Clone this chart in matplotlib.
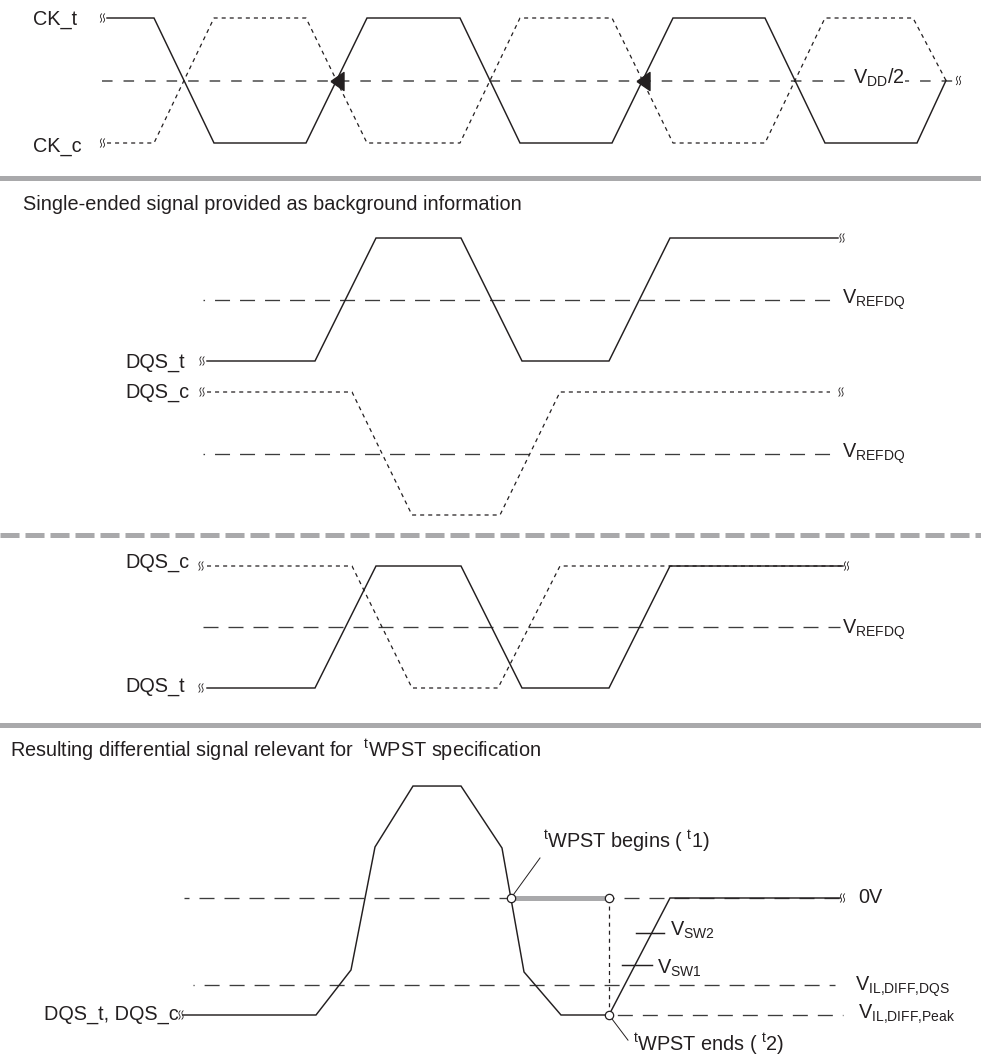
import numpy as np
import matplotlib
matplotlib.use('Agg')
import matplotlib.pyplot as plt

plt.rcParams['font.family'] = ['Liberation Sans', 'DejaVu Sans']
plt.rcParams['mathtext.fontset'] = 'custom'
plt.rcParams['mathtext.rm'] = 'Liberation Sans'
plt.rcParams['mathtext.it'] = 'Liberation Sans:italic'
plt.rcParams['mathtext.bf'] = 'Liberation Sans:bold'
plt.rcParams['lines.scale_dashes'] = False

# ---------------- data (time axis in diagram units, logic/voltage levels) ----
# Panel 1: differential clock
CK_T_TIME = [107, 154, 214, 306, 367, 460, 520, 612, 673, 765, 825, 917, 946]
CK_T_LEVEL = [1, 1, 0, 0, 1, 1, 0, 0, 1, 1, 0, 0, 0.5]
CK_C_TIME = [107, 154, 214, 306, 367, 460, 520, 612, 673, 765, 825, 913, 946]
CK_C_LEVEL = [0, 0, 1, 1, 0, 0, 1, 1, 0, 0, 1, 1, 0.5]
CK_MID_LEVEL = 0.5
CK_MID_SPAN = [102, 955]
CK_ARROW_TIMES = [336.5, 642.5]

# Panel 2: single-ended strobes
SE_DQS_T_TIME = [207, 315, 376, 461, 522, 609, 670, 838]
SE_DQS_T_LEVEL = [0, 0, 1, 1, 0, 0, 1, 1]
SE_DQS_C_TIME = [207, 352, 412, 500, 560, 830]
SE_DQS_C_LEVEL = [1, 1, 0, 0, 1, 1]
VREFDQ_LEVEL = 0.5
SE_VREF_SPAN = [203, 830]

# Panel 3: overlaid strobes
OV_DQS_C_TIME = [207, 352, 412, 498, 560, 843]
OV_DQS_C_LEVEL = [1, 1, 0, 0, 1, 1]
OV_DQS_T_TIME = [207, 315, 376, 461, 522, 609, 670, 843]
OV_DQS_T_LEVEL = [0, 0, 1, 1, 0, 0, 1, 1]
OV_VREF_SPAN = [203, 840]

# Panel 4: differential signal (0V = 0, VIL,DIFF,Peak = -1)
DIFF_TIME = [183, 316, 351, 375, 413, 461, 502, 524, 561, 609, 670, 840]
DIFF_LEVEL = [-1, -1, -0.615, 0.436, 0.957, 0.957, 0.427, -0.632, -1, -1, 0, 0]
V0_LEVEL = 0.0
V0_SPAN = [184, 840]
VIL_DQS_LEVEL = -0.744
VIL_DQS_SPAN = [193, 835]
VIL_PEAK_LEVEL = -1.0
VIL_PEAK_SPAN = [609, 843]
T1 = 511
T2 = 609
VSW2_LEVEL = -0.30
VSW2_SPAN = [636, 664]
VSW1_LEVEL = -0.573
VSW1_SPAN = [622, 652]

# Text
CK_LABELS = ['CK_t', 'CK_c']
SE_LABELS = ['DQS_t', 'DQS_c']
OV_LABELS = ['DQS_c', 'DQS_t']
DIFF_LABEL = 'DQS_t, DQS_c'
VDD_LABEL = r'V$_{\mathrm{DD}}$/2'
VREF_LABEL = r'V$_{\mathrm{REFDQ}}$'
SECTION2_TITLE = 'Single-ended signal provided as background information'
SECTION4_TITLE = r'Resulting differential signal relevant for  $^{\mathrm{t}}$WPST specification'
T1_LABEL = r'$^{\mathrm{t}}$WPST begins ( $^{\mathrm{t}}$1)'
T2_LABEL = r'$^{\mathrm{t}}$WPST ends ( $^{\mathrm{t}}$2)'
V0_LABEL = '0V'
VSW2_LABEL = r'V$_{\mathrm{SW2}}$'
VSW1_LABEL = r'V$_{\mathrm{SW1}}$'
VIL_DQS_LABEL = r'V$_{\mathrm{IL{,}DIFF{,}DQS}}$'
VIL_PEAK_LABEL = r'V$_{\mathrm{IL{,}DIFF{,}Peak}}$'

# ---------------- style ----------------
INK = '#231f20'
REFC = '#3c3c3c'
GREY = '#a9a9ab'
W, H = 981, 1060
FS = 14.3
SOLID = dict(color=INK, lw=1.05, solid_joinstyle='miter', clip_on=False)
DOT = dict(color=INK, lw=0.9, linestyle=(0, (2.9, 2.9)), clip_on=False)


def refstyle(offset):
    return dict(color=REFC, lw=0.95, linestyle=(offset, (10.8, 7.2)), clip_on=False)


fig = plt.figure(figsize=(W / 100, H / 100), dpi=100)
ov = fig.add_axes([0, 0, 1, 1])
ov.set_xlim(0, W)
ov.set_ylim(H, 0)
ov.axis('off')
ov.set_zorder(10)


def panel(y_lo_px, y_hi_px, lo, hi):
    ax = fig.add_axes([0, 1 - y_lo_px / H, 1, (y_lo_px - y_hi_px) / H])
    ax.set_xlim(0, W)
    ax.set_ylim(lo, hi)
    ax.axis('off')
    ax.patch.set_alpha(0)
    return ax


def to_px(ax, x, y):
    dx, dy = ax.transData.transform((x, y))
    return dx, H - dy


def brk(ax, x, y, dx):
    px, py = to_px(ax, x, y)
    s = np.linspace(-1, 1, 30)
    for off in (-1.5, 1.5):
        ov.plot(px + dx + off + 0.9 * np.sin(np.pi * s) - 0.6 * s, py + 4.2 * s,
                color=INK, lw=0.6)


def txt(x, y, s, **kw):
    ov.text(x, y, s, fontsize=kw.pop('fontsize', FS), color=INK, ha='left',
            va='baseline', **kw)


# separators
ov.axhline(178, color=GREY, lw=3.6)
ov.axhline(534.5, color=GREY, lw=3.6, linestyle=(0, (13.7, 4.3)))
ov.axhline(724.5, color=GREY, lw=3.6)

# ---------------- Panel 1 ----------------
a1 = panel(143, 18, 0, 1)
a1.plot(CK_MID_SPAN, [CK_MID_LEVEL] * 2, color='#4a4a4a', lw=1.1,
        linestyle=(0, (7.6, 7.9)), clip_on=False)
a1.plot(CK_C_TIME, CK_C_LEVEL, **DOT)
a1.plot(CK_T_TIME, CK_T_LEVEL, **SOLID)
a1.plot(CK_ARROW_TIMES, [CK_MID_LEVEL] * 2, linestyle='none',
        marker=[(-0.72, 0), (0.72, -1), (0.72, 1), (-0.72, 0)],
        markersize=13, color=INK, clip_on=False)
brk(a1, CK_T_TIME[0], CK_T_LEVEL[0], -4.5)
brk(a1, CK_C_TIME[0], CK_C_LEVEL[0], -4.5)
brk(a1, CK_MID_SPAN[1], CK_MID_LEVEL, 3.5)
txt(33, 25, CK_LABELS[0])
txt(33, 152, CK_LABELS[1])
txt(853, 84, VDD_LABEL, bbox=dict(facecolor='white', edgecolor='none', pad=0.5))

# ---------------- Panel 2 ----------------
txt(23, 210, SECTION2_TITLE)
a2t = panel(361, 238, 0, 1)
a2t.plot(SE_VREF_SPAN, [VREFDQ_LEVEL] * 2, **refstyle(9.7))
a2t.plot(SE_DQS_T_TIME, SE_DQS_T_LEVEL, **SOLID)
brk(a2t, SE_DQS_T_TIME[0], SE_DQS_T_LEVEL[0], -5)
brk(a2t, SE_DQS_T_TIME[-1], SE_DQS_T_LEVEL[-1], 4)
a2c = panel(515, 392, 0, 1)
a2c.plot(SE_VREF_SPAN, [VREFDQ_LEVEL] * 2, **refstyle(9.7))
a2c.plot(SE_DQS_C_TIME, SE_DQS_C_LEVEL, **DOT)
brk(a2c, SE_DQS_C_TIME[0], SE_DQS_C_LEVEL[0], -5)
brk(a2c, SE_DQS_C_TIME[-1], SE_DQS_C_LEVEL[-1], 11)
txt(125, 368, SE_LABELS[0])
txt(125, 398, SE_LABELS[1])
txt(842, 304, VREF_LABEL)
txt(842, 458, VREF_LABEL)

# ---------------- Panel 3 ----------------
a3 = panel(688, 566, 0, 1)
a3.plot(OV_VREF_SPAN, [VREFDQ_LEVEL] * 2, **refstyle(0))
a3.plot(OV_DQS_C_TIME, OV_DQS_C_LEVEL, **DOT)
a3.plot(OV_DQS_T_TIME, OV_DQS_T_LEVEL, **SOLID)
brk(a3, OV_DQS_C_TIME[0], OV_DQS_C_LEVEL[0], -6)
brk(a3, OV_DQS_T_TIME[0], OV_DQS_T_LEVEL[0], -6)
brk(a3, OV_DQS_T_TIME[-1], OV_DQS_T_LEVEL[-1], 3.5)
txt(125, 568, OV_LABELS[0])
txt(125, 692, OV_LABELS[1])
txt(842, 634, VREF_LABEL)

# ---------------- Panel 4 ----------------
txt(10, 757, SECTION4_TITLE)
a4 = panel(1015, 898, -1, 0)
a4.plot(V0_SPAN, [V0_LEVEL] * 2, **refstyle(7.2))
a4.plot(VIL_DQS_SPAN, [VIL_DQS_LEVEL] * 2, **refstyle(10))
a4.plot(VIL_PEAK_SPAN, [VIL_PEAK_LEVEL] * 2, **refstyle(12))
a4.plot([T1, T2], [V0_LEVEL] * 2, color=GREY, lw=3.6, solid_capstyle='butt',
        clip_on=False)
a4.plot([T2, T2], [V0_LEVEL, VIL_PEAK_LEVEL], **DOT)
a4.plot(DIFF_TIME, DIFF_LEVEL, **SOLID)
a4.plot(VSW2_SPAN, [VSW2_LEVEL] * 2, **SOLID)
a4.plot(VSW1_SPAN, [VSW1_LEVEL] * 2, **SOLID)
# leader lines
a4.plot([T1, T1 + 29], [V0_LEVEL, V0_LEVEL + 0.342], color=INK, lw=0.7, clip_on=False)
a4.plot([T2, T2 + 19], [VIL_PEAK_LEVEL, VIL_PEAK_LEVEL - 0.215], color=INK, lw=0.7,
        clip_on=False)
a4.plot([T1, T2, T2], [V0_LEVEL, V0_LEVEL, VIL_PEAK_LEVEL], linestyle='none',
        marker='o', markersize=6, markerfacecolor='white', markeredgecolor=INK,
        markeredgewidth=0.9, clip_on=False, zorder=5)
brk(a4, DIFF_TIME[0], DIFF_LEVEL[0], -2)
brk(a4, DIFF_TIME[-1], DIFF_LEVEL[-1], 2.5)
txt(44, 1020, DIFF_LABEL)
txt(543, 848, T1_LABEL)
txt(858, 903, V0_LABEL)
txt(670, 936, VSW2_LABEL)
txt(657, 974, VSW1_LABEL)
txt(855, 991, VIL_DQS_LABEL)
txt(858, 1019, VIL_PEAK_LABEL)
txt(633, 1051, T2_LABEL)

fig.savefig('out.png', dpi=100)
